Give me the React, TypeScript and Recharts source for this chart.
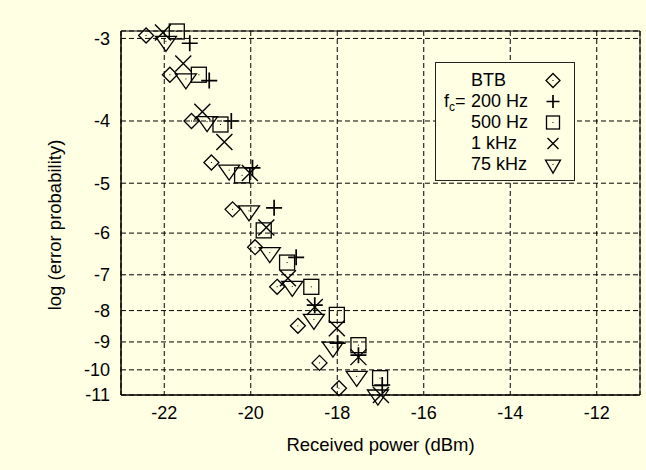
import React from "react";
import { ScatterChart, Scatter, XAxis, YAxis, CartesianGrid, ReferenceArea, Legend } from "recharts";

// received power (dBm) and log10(error probability) per measurement series
const btbPower = [-22.42, -21.87, -21.37, -20.91, -20.42, -19.9, -19.39, -18.91, -18.41, -17.96];
const btbLogP = [-2.97, -3.4, -4.0, -4.64, -5.5, -6.32, -7.32, -8.47, -9.74, -10.72];

const hz200Power = [-21.41, -20.96, -20.45, -19.96, -19.46, -18.95, -18.52, -17.99, -17.51, -16.96];
const hz200LogP = [-3.05, -3.47, -4.0, -4.73, -5.47, -6.56, -7.84, -9.04, -9.46, -10.59];

const hz500Power = [-21.71, -21.2, -20.7, -20.2, -19.7, -19.16, -18.6, -18.01, -17.51, -17.01];
const hz500LogP = [-2.93, -3.4, -4.05, -4.86, -5.94, -6.69, -7.32, -8.13, -9.11, -10.32];

const khz1Power = [-22.03, -21.56, -21.12, -20.61, -20.02, -19.64, -19.14, -18.52, -18.01, -17.51, -16.99];
const khz1LogP = [-2.94, -3.27, -3.87, -4.31, -4.82, -5.88, -7.09, -7.89, -8.55, -9.53, -11.0];

const khz75Power = [-21.96, -21.5, -21.01, -20.5, -20.04, -19.56, -19.04, -18.54, -18.1, -17.55, -17.06];
const khz75LogP = [-3.03, -3.45, -4.01, -4.77, -5.53, -6.45, -7.31, -8.27, -9.18, -10.25, -11.0];

const xTicks = [-22, -20, -18, -16, -14, -12];
const yTicks = [-3, -4, -5, -6, -7, -8, -9, -10, -11];

const BG = "#FFFFE4";
const FONT = "'Liberation Sans', Arial, Helvetica, sans-serif";

// the y axis is compressed towards low error rates
const toAxis = (logP: number) => -Math.log10(-logP - 0.4);
const fromAxis = (t: number) => -(Math.pow(10, -t) + 0.4);

const yDomain = [toAxis(-11), toAxis(-2.925)];

const pts = (xs: number[], ys: number[]) => xs.map((x, i) => ({ x, y: toAxis(ys[i]) }));

const Diamond = ({ cx, cy, r = 7.5 }: any) => (
  <g>
    <path d={`M${cx} ${cy - r}L${cx + r} ${cy}L${cx} ${cy + r}L${cx - r} ${cy}Z`} fill="none" stroke="#000" strokeWidth={1.3} />
    <rect x={cx - 0.5} y={cy - 0.5} width={1} height={1} fill="#000" />
  </g>
);

const Plus = ({ cx, cy, r = 8 }: any) => (
  <path d={`M${cx - r} ${cy}H${cx + r}M${cx} ${cy - r}V${cy + r}`} stroke="#000" strokeWidth={1.7} fill="none" />
);

const Square = ({ cx, cy, r = 7.5 }: any) => (
  <g>
    <rect x={cx - r} y={cy - r} width={2 * r} height={2 * r} fill="none" stroke="#000" strokeWidth={1.3} />
    <rect x={cx - 0.5} y={cy - 0.5} width={1} height={1} fill="#000" />
  </g>
);

const Cross = ({ cx, cy, r = 8 }: any) => (
  <path d={`M${cx - r} ${cy - r}L${cx + r} ${cy + r}M${cx - r} ${cy + r}L${cx + r} ${cy - r}`} stroke="#000" strokeWidth={1.4} fill="none" />
);

const Triangle = ({ cx, cy, w = 10.5, h = 15 }: any) => (
  <g>
    <path d={`M${cx - w} ${cy - h / 3}L${cx + w} ${cy - h / 3}L${cx} ${cy + (2 * h) / 3}Z`} fill="none" stroke="#000" strokeWidth={1.3} />
    <rect x={cx - 0.5} y={cy - 0.5} width={1} height={1} fill="#000" />
  </g>
);

const legendRows = [
  { label: "BTB", mark: <Diamond cx={10} cy={10.5} r={7} /> },
  { label: "200 Hz", mark: <Plus cx={10} cy={10.5} r={6.5} /> },
  { label: "500 Hz", mark: <Square cx={10} cy={10.5} r={6.5} /> },
  { label: "1 kHz", mark: <Cross cx={10} cy={10.5} r={5.5} /> },
  { label: "75 kHz", mark: <Triangle cx={10} cy={10.5} w={7.5} h={13} /> },
];

const renderLegend = () => (
  <div
    style={{
      position: "absolute",
      left: 435,
      top: 62,
      width: 140,
      height: 119,
      boxSizing: "border-box",
      border: "1px solid #222",
      background: BG,
      fontFamily: FONT,
      fontSize: 18,
      color: "#000",
    }}
  >
    {legendRows.map((row, i) => (
      <React.Fragment key={row.label}>
        <div style={{ position: "absolute", left: 35, top: 7 + i * 21, height: 21, lineHeight: "21px", whiteSpace: "nowrap" }}>
          {row.label}
        </div>
        <svg style={{ position: "absolute", left: 107, top: 7 + i * 21 }} width={20} height={21}>
          {row.mark}
        </svg>
      </React.Fragment>
    ))}
    <div style={{ position: "absolute", left: 8, top: 28, height: 21, lineHeight: "21px", whiteSpace: "nowrap" }}>
      f<span style={{ fontSize: 12, position: "relative", top: 4 }}>c</span>=
    </div>
  </div>
);

const tickStyle = { fill: "#000", fontSize: 18, fontFamily: FONT };

export default function App() {
  return (
    <div style={{ position: "absolute", left: 0, top: 0, width: 646, height: 470, background: BG }}>
      <ScatterChart width={646} height={470} margin={{ top: 31, right: 6, bottom: 0, left: 0 }}>
        <CartesianGrid stroke="#000" strokeDasharray="5 3" strokeWidth={1} fill="none" />
        <XAxis
          type="number"
          dataKey="x"
          domain={[-23, -11]}
          ticks={xTicks}
          interval={0}
          height={75}
          tickLine={false}
          tickMargin={5}
          axisLine={{ stroke: "#000" }}
          tick={tickStyle}
          label={{ value: "Received power (dBm)", position: "insideBottom", offset: 19, fill: "#000", fontSize: 18.5, fontFamily: FONT }}
        />
        <YAxis
          type="number"
          dataKey="y"
          domain={yDomain}
          ticks={yTicks.map(toAxis)}
          interval={0}
          tickFormatter={(t: number) => String(Math.round(fromAxis(t)))}
          width={121}
          tickLine={false}
          tickMargin={5}
          axisLine={{ stroke: "#000" }}
          tick={tickStyle}
          label={{ value: "log (error probability)", angle: -90, position: "center", dx: -6, dy: 12, fill: "#000", fontSize: 18.5, fontFamily: FONT }}
        />
        <ReferenceArea x1={-23} x2={-11} y1={yDomain[0]} y2={yDomain[1]} fill="none" stroke="#000" strokeWidth={1} ifOverflow="visible" />
        <Legend layout="horizontal" verticalAlign="top" align="left" wrapperStyle={{ left: 0, top: 0, width: 0, height: 0 }} content={renderLegend} />
        <Scatter name="BTB" data={pts(btbPower, btbLogP)} shape={(p: any) => <Diamond cx={p.cx} cy={p.cy} />} isAnimationActive={false} />
        <Scatter name="200 Hz" data={pts(hz200Power, hz200LogP)} shape={(p: any) => <Plus cx={p.cx} cy={p.cy} />} isAnimationActive={false} />
        <Scatter name="500 Hz" data={pts(hz500Power, hz500LogP)} shape={(p: any) => <Square cx={p.cx} cy={p.cy} />} isAnimationActive={false} />
        <Scatter name="1 kHz" data={pts(khz1Power, khz1LogP)} shape={(p: any) => <Cross cx={p.cx} cy={p.cy} />} isAnimationActive={false} />
        <Scatter name="75 kHz" data={pts(khz75Power, khz75LogP)} shape={(p: any) => <Triangle cx={p.cx} cy={p.cy} />} isAnimationActive={false} />
      </ScatterChart>
    </div>
  );
}
